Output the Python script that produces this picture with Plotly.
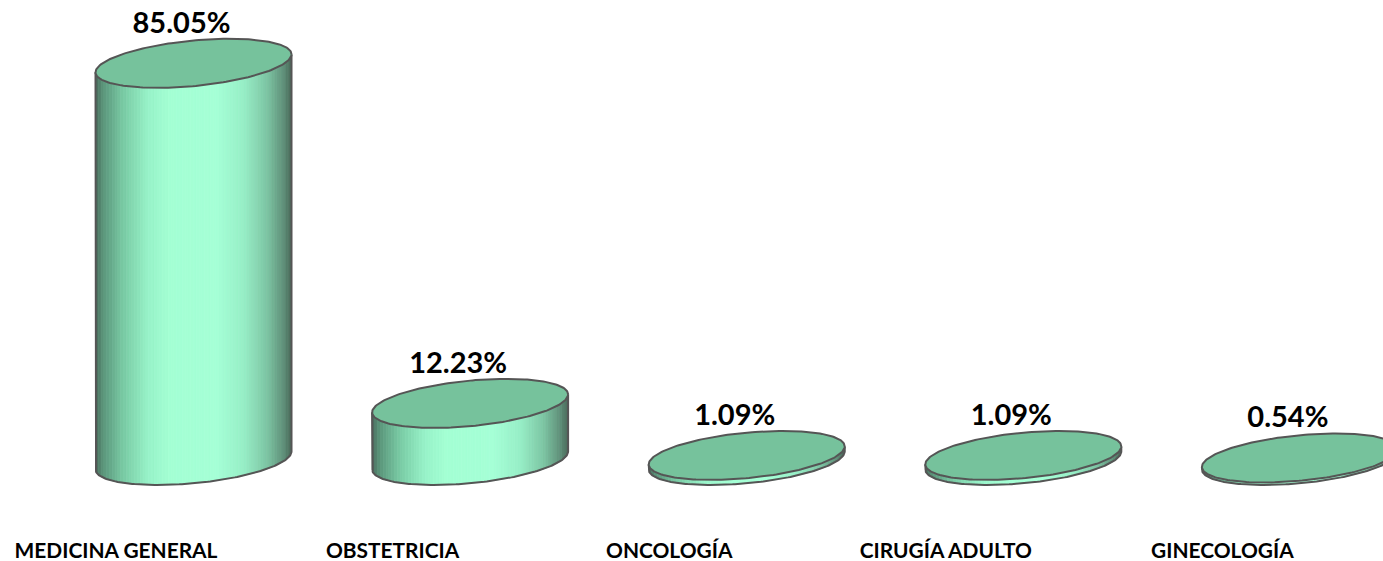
import numpy as np
import plotly.graph_objects as go

categories = ["MEDICINA GENERAL", "OBSTETRICIA", "ONCOLOGÍA", "CIRUGÍA ADULTO", "GINECOLOGÍA"]
values = [85.05, 12.23, 1.09, 1.09, 0.54]
value_labels = ["85.05%", "12.23%", "1.09%", "1.09%", "0.54%"]

W, H = 1383, 561
PX_X = 276.6          # px per category
PX_Y = 4.67           # px per percentage point
LABEL0 = 116.0        # px centre of first tick label
BASE_PX = 460.5
BOTTOM_PX = 534.0
CYL_SHIFT = 77.5 / PX_X
TXT_SHIFT = 65.5 / PX_X
A = 98.0 / PX_X
SKEW = 9.0 / PX_Y
B = 22.8 / PX_Y
TEXT_OFF = 38.0 / PX_Y

TOP = "#76c29c"
EDGE = "#555555"
STOPS = [(0.0, "#47695a"), (0.04, "#5b967b"), (0.14, "#78c9a3"), (0.27, "#97f2c8"),
         (0.38, "#a3ffd3"), (0.62, "#a5ffd6"), (0.76, "#96eec6"), (0.88, "#7cc3a2"),
         (0.96, "#5f917a"), (1.0, "#4a6a5a")]


def hex_rgb(h):
    return np.array([int(h[i:i + 2], 16) for i in (1, 3, 5)], float)


def shade(f):
    pos = [s[0] for s in STOPS]
    rgb = [np.interp(f, pos, [hex_rgb(s[1])[k] for s in STOPS]) for k in range(3)]
    return "rgb(%d,%d,%d)" % tuple(int(round(c)) for c in rgb)


def ell(cx, level, t):
    return cx + A * np.cos(t), level + SKEW * np.cos(t) + B * np.sin(t)


fig = go.Figure()
N = 70
for i, v in enumerate(values):
    cx = i + CYL_SHIFT
    edges = np.arccos(np.linspace(-1, 1, N + 1)) * -1 % (2 * np.pi)
    # front half, left to right
    for k in range(N):
        ts = np.array([edges[k], edges[k + 1]])
        x0, y0 = ell(cx, 0, ts)
        x1, y1 = ell(cx, v, ts[::-1])
        c = shade((k + 0.5) / N)
        fig.add_trace(go.Scatter(x=np.r_[x0, x1, x0[0]], y=np.r_[y0, y1, y0[0]], mode="lines",
                                 fill="toself", fillcolor=c, line=dict(color=c, width=0.8),
                                 hoverinfo="skip", showlegend=False))
    # outline of the body
    t_front = np.linspace(np.pi, 2 * np.pi, 120)
    xb, yb = ell(cx, 0, t_front)
    xo = np.r_[ell(cx, v, np.pi)[0], xb, ell(cx, v, 0.0)[0]]
    yo = np.r_[ell(cx, v, np.pi)[1], yb, ell(cx, v, 0.0)[1]]
    fig.add_trace(go.Scatter(x=xo, y=yo, mode="lines", line=dict(color=EDGE, width=2),
                             hoverinfo="skip", showlegend=False))
    # top ellipse
    t_all = np.linspace(0, 2 * np.pi, 200)
    xt, yt = ell(cx, v, t_all)
    fig.add_trace(go.Scatter(x=xt, y=yt, mode="lines", fill="toself", fillcolor=TOP,
                             line=dict(color=EDGE, width=2), hoverinfo="skip", showlegend=False))

fig.add_trace(go.Scatter(
    x=[i + TXT_SHIFT for i in range(len(values))],
    y=[v + TEXT_OFF for v in values],
    mode="text", text=value_labels, textposition="middle center",
    textfont=dict(family="Lato", size=29, color="#000000", weight="bold"),
    hoverinfo="skip", showlegend=False, cliponaxis=False))

fig.update_layout(
    width=W, height=H, autosize=False,
    margin=dict(l=0, r=0, t=0, b=H - BOTTOM_PX, autoexpand=False),
    paper_bgcolor="white", plot_bgcolor="white", showlegend=False,
    xaxis=dict(range=[-LABEL0 / PX_X, (W - LABEL0) / PX_X], tickmode="array",
               tickvals=list(range(len(categories))), ticktext=categories,
               showgrid=False, zeroline=False, showline=False, ticks="",
               tickfont=dict(family="Lato", size=20.9, color="#000000", weight="bold"),
               ticklabelstandoff=2, fixedrange=True),
    yaxis=dict(range=[(BASE_PX - BOTTOM_PX) / PX_Y, BASE_PX / PX_Y], visible=False,
               showgrid=False, zeroline=False, fixedrange=True),
)
fig.write_html("out.html", config={"displayModeBar": False},
               post_script="document.body.style.margin='0';document.documentElement.style.overflow='hidden';")
